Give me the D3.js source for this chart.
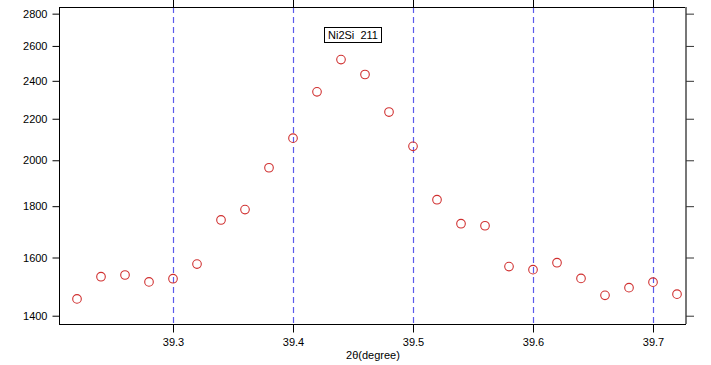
<!DOCTYPE html>
<html><head><meta charset="utf-8">
<script src="https://cdn.jsdelivr.net/npm/d3@7"></script>
<style>body{margin:0;background:#fff}svg{display:block}text{font-family:Arial,"Liberation Sans",sans-serif}</style>
</head><body>
<svg id="c" width="711" height="365"></svg>
<script>
const xValues = [39.22,39.24,39.26,39.28,39.30,39.32,39.34,39.36,39.38,39.40,39.42,39.44,39.46,39.48,39.50,39.52,39.54,39.56,39.58,39.60,39.62,39.64,39.66,39.68,39.70,39.72];
const counts = [1455,1531,1537,1513,1524,1576,1744,1786,1966,2104,2340,2520,2435,2234,2065,1827,1729,1721,1567,1556,1581,1525,1467,1493,1512,1471];
const xTicks = [39.3,39.4,39.5,39.6,39.7];
const yTicks = [1400,1600,1800,2000,2200,2400,2600,2800];
const peakLabel = "Ni2Si  211";
const xLabel = "2θ(degree)";

const svg = d3.select("#c");
const L=59, R=686, T=7, B=324;
const x = d3.scaleLinear().domain([39.205,39.7275]).range([L,R]);
const y = d3.scaleLog().domain([1373.6,2843]).range([B,T]);

// grid
const grid = svg.append("g").attr("class","grid");
xTicks.forEach(d => {
  const px = Math.round(x(d)) + 0.5;
  grid.append("path")
    .attr("d", `M${px},${T}V${B}`)
    .attr("fill", "none")
    .attr("stroke", "rgb(90,90,235)")
    .attr("stroke-width", 1.2)
    .attr("stroke-dasharray", "6,4");
});

// frame
svg.append("line").attr("x1",L).attr("x2",R).attr("y1",T+0.5).attr("y2",T+0.5).attr("stroke","#000");
svg.append("line").attr("x1",R).attr("x2",R).attr("y1",T).attr("y2",B).attr("stroke","#777").attr("stroke-width",2);

// left axis
const ya = svg.append("g").attr("transform",`translate(${L+0.5},0)`)
  .call(d3.axisLeft(y).tickValues(yTicks).tickFormat(d3.format("d")).tickSize(7).tickPadding(5));
ya.select(".domain").attr("d",`M0,${T}V${B}`);
ya.selectAll("text").attr("font-size",11).attr("fill","#000").style("font-family","Arial, 'Liberation Sans', sans-serif");
// right axis ticks
const yr = svg.append("g").attr("transform",`translate(${R},0)`)
  .call(d3.axisRight(y).tickValues(yTicks).tickFormat("").tickSize(8));
yr.select(".domain").remove();
yr.selectAll("line").attr("stroke","#333");

// bottom axis
const xa = svg.append("g").attr("transform",`translate(0,${B+0.5})`)
  .call(d3.axisBottom(x).tickValues(xTicks).tickFormat(d3.format(".1f")).tickSize(8).tickPadding(6));
xa.select(".domain").attr("d",`M${L},0H${R}`);
xa.selectAll("text").attr("font-size",11).attr("fill","#000").style("font-family","Arial, 'Liberation Sans', sans-serif");
// top ticks
const xt = svg.append("g").attr("transform",`translate(0,${T})`)
  .call(d3.axisTop(x).tickValues(xTicks).tickFormat("").tickSize(7));
xt.select(".domain").remove();

svg.append("text").attr("x",373).attr("y",359).attr("text-anchor","middle")
  .attr("font-size",11).text(xLabel);

// points
svg.append("g").selectAll("circle").data(xValues).join("circle")
  .attr("cx",(d)=>x(d)).attr("cy",(d,i)=>y(counts[i])).attr("r",4.3)
  .attr("fill","none").attr("stroke","#d03030").attr("stroke-width",1.1);

// label
svg.append("rect").attr("x",324.5).attr("y",27.5).attr("width",57).attr("height",15)
  .attr("fill","#fff").attr("stroke","#000");
svg.append("text").attr("x",353).attr("y",39).attr("text-anchor","middle")
  .attr("font-size",11).attr("xml:space","preserve").style("white-space","pre").text(peakLabel);
</script>
</body></html>
